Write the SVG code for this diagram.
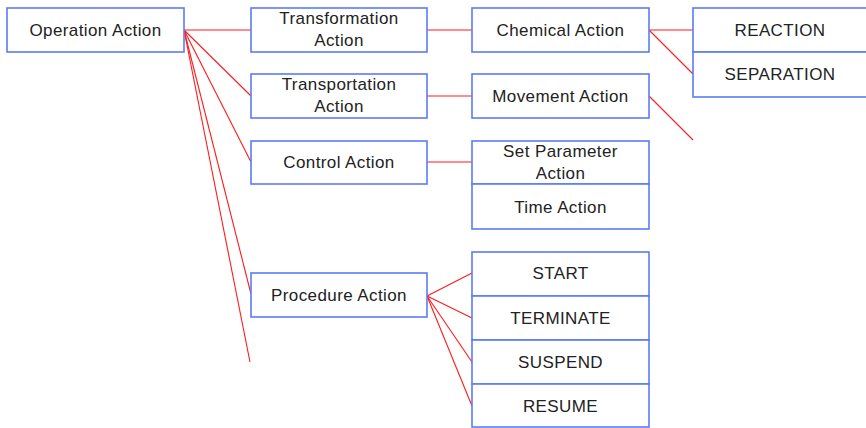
<svg xmlns="http://www.w3.org/2000/svg" width="866" height="428" viewBox="0 0 866 428">
  <style>
    .box { fill: #ffffff; stroke: #5a7cf5; stroke-width: 1.6; }
    .lbl { font-family: "Liberation Sans", Arial, sans-serif; font-size: 17px; letter-spacing: 0.4px; fill: #222222; text-anchor: middle; }
    .link { stroke: #ff1a1a; stroke-width: 1.1; fill: none; }
  </style>
  <rect x="0" y="0" width="866" height="428" fill="#ffffff"/>

  <!-- connectors -->
  <g id="connectors">
    <line class="link" x1="184" y1="30" x2="251" y2="30"/>
    <line class="link" x1="184" y1="30" x2="251" y2="96"/>
    <line class="link" x1="184" y1="30" x2="251" y2="162"/>
    <line class="link" x1="184" y1="30" x2="251" y2="294"/>
    <line class="link" x1="184" y1="30" x2="250" y2="362"/>
    <line class="link" x1="427" y1="30" x2="472" y2="30"/>
    <line class="link" x1="427" y1="96" x2="472" y2="96"/>
    <line class="link" x1="427" y1="162" x2="472" y2="162"/>
    <line class="link" x1="649" y1="30" x2="693" y2="30"/>
    <line class="link" x1="649" y1="30" x2="693" y2="74"/>
    <line class="link" x1="649" y1="96" x2="693" y2="140"/>
    <line class="link" x1="427" y1="296" x2="472" y2="273"/>
    <line class="link" x1="427" y1="296" x2="472" y2="318"/>
    <line class="link" x1="427" y1="296" x2="472" y2="362"/>
    <line class="link" x1="427" y1="296" x2="472" y2="406"/>
  </g>

  <g id="operation-action">
    <rect class="box" x="7" y="8" width="177" height="44"/>
    <text class="lbl" x="95.5" y="36">Operation Action</text>
  </g>

  <g id="transformation-action">
    <rect class="box" x="251" y="8" width="176" height="44"/>
    <text class="lbl" x="339" y="24">Transformation</text>
    <text class="lbl" x="339" y="46">Action</text>
  </g>

  <g id="transportation-action">
    <rect class="box" x="251" y="74" width="176" height="44"/>
    <text class="lbl" x="339" y="90">Transportation</text>
    <text class="lbl" x="339" y="112">Action</text>
  </g>

  <g id="control-action">
    <rect class="box" x="251" y="141" width="176" height="43"/>
    <text class="lbl" x="339" y="168">Control Action</text>
  </g>

  <g id="procedure-action">
    <rect class="box" x="251" y="273" width="176" height="44"/>
    <text class="lbl" x="339" y="301">Procedure Action</text>
  </g>

  <g id="chemical-action">
    <rect class="box" x="472" y="8" width="177" height="44"/>
    <text class="lbl" x="560.5" y="36">Chemical Action</text>
  </g>

  <g id="movement-action">
    <rect class="box" x="472" y="74" width="177" height="44"/>
    <text class="lbl" x="560.5" y="102">Movement Action</text>
  </g>

  <g id="set-parameter-action">
    <rect class="box" x="472" y="141" width="177" height="43"/>
    <text class="lbl" x="560.5" y="157">Set Parameter</text>
    <text class="lbl" x="560.5" y="179">Action</text>
  </g>

  <g id="time-action">
    <rect class="box" x="472" y="184" width="177" height="45"/>
    <text class="lbl" x="560.5" y="213">Time Action</text>
  </g>

  <g id="reaction">
    <rect class="box" x="693" y="8" width="177" height="44"/>
    <text class="lbl" x="780" y="36">REACTION</text>
  </g>

  <g id="separation">
    <rect class="box" x="693" y="52" width="177" height="45"/>
    <text class="lbl" x="780" y="80">SEPARATION</text>
  </g>

  <g id="start">
    <rect class="box" x="472" y="252" width="177" height="44"/>
    <text class="lbl" x="560.5" y="279">START</text>
  </g>

  <g id="terminate">
    <rect class="box" x="472" y="296" width="177" height="44"/>
    <text class="lbl" x="560.5" y="324">TERMINATE</text>
  </g>

  <g id="suspend">
    <rect class="box" x="472" y="340" width="177" height="44"/>
    <text class="lbl" x="560.5" y="368">SUSPEND</text>
  </g>

  <g id="resume">
    <rect class="box" x="472" y="384" width="177" height="43"/>
    <text class="lbl" x="560.5" y="412">RESUME</text>
  </g>
</svg>
